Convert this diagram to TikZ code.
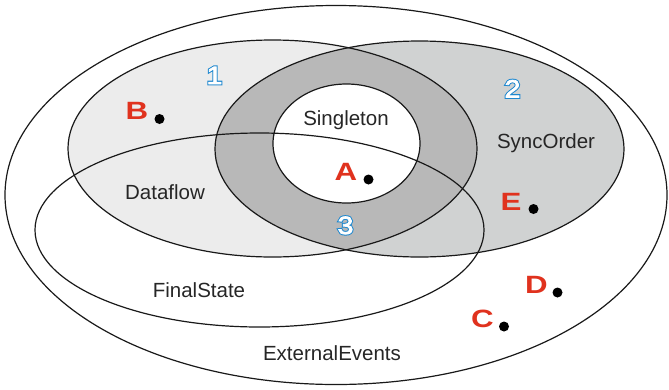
\documentclass[tikz,border=0pt]{standalone}
\usepackage{fontspec}
\setmainfont{Liberation Sans}
\newfontfamily\widebold[FakeStretch=1.25]{Liberation Sans Bold}
% outlined digits: a heavily emboldened blue layer under a lighter white one
\newfontfamily\digitouter[FakeStretch=1.15, FakeBold=11]{Liberation Sans}
\newfontfamily\digitinner[FakeStretch=1.15, FakeBold=3]{Liberation Sans}
\definecolor{regA}{HTML}{ECECEC}
\definecolor{regB}{HTML}{D0D2D2}
\definecolor{regC}{HTML}{B8B8B8}
\definecolor{ptred}{HTML}{E0321E}
\definecolor{numblue}{HTML}{1E88D0}
\tikzset{
  setline/.style={draw=black!90, line width=1.2pt},
  setname/.style={anchor=base, inner sep=0pt, font=\fontsize{20.5}{20.5}\selectfont, text=black!85},
  ptname/.style={anchor=base, inner sep=0pt, font=\fontsize{25}{25}\widebold, text=ptred},
  ptdot/.style={fill=black, circle, inner sep=0pt, minimum size=10pt},
  numouter/.style={anchor=base, inner sep=0pt, font=\fontsize{25}{25}\digitouter, text=numblue},
  numinner/.style={anchor=base, inner sep=0pt, font=\fontsize{25}{25}\digitinner, text=white}
}
\begin{document}
\begin{tikzpicture}[x=1pt, y=-1pt]
  \useasboundingbox (0,0) rectangle (669,389);
  % shaded regions
  \fill[regA] (272.5,148.5) ellipse [x radius=204.5, y radius=108.5];
  \fill[regB] (419.5,149) ellipse [x radius=204.5, y radius=108];
  \begin{scope}
    \clip (272.5,148.5) ellipse [x radius=204.5, y radius=108.5];
    \fill[regC] (419.5,149) ellipse [x radius=204.5, y radius=108];
  \end{scope}
  \fill[white] (346.5,143.5) ellipse [x radius=73.5, y radius=59.5];
  % set boundaries
  \draw[setline] (336,195) ellipse [x radius=331, y radius=189.5];
  \draw[setline] (272.5,148.5) ellipse [x radius=204.5, y radius=108.5];
  \draw[setline] (419.5,149) ellipse [x radius=204.5, y radius=108];
  \draw[setline] (259.5,230) ellipse [x radius=224.5, y radius=97];
  \draw[setline] (346.5,143.5) ellipse [x radius=73.5, y radius=59.5];
  % set names
  \node[setname] (singleton) at (346,125) {Singleton};
  \node[setname] (syncorder) at (546,148) {SyncOrder};
  \node[setname] (dataflow) at (165,199) {Dataflow};
  \node[setname] (finalstate) at (199,297) {FinalState};
  \node[setname] (external) at (332,360) {ExternalEvents};
  % region numbers
  \node[numouter] (n1o) at (214.5,84) {1};
  \node[numinner] (n1) at (n1o.base) {1};
  \node[numouter] (n2o) at (512.5,97.5) {2};
  \node[numinner] (n2) at (n2o.base) {2};
  \node[numouter] (n3o) at (345.5,234) {3};
  \node[numinner] (n3) at (n3o.base) {3};
  % points
  \node[ptname] (lB) at (137,119) {B};
  \node[ptdot] (pB) at (159.5,119) {};
  \node[ptname] (lA) at (346,180) {A};
  \node[ptdot] (pA) at (368.5,179.5) {};
  \node[ptname] (lE) at (511,210) {E};
  \node[ptdot] (pE) at (533.5,209) {};
  \node[ptname] (lD) at (536.5,293) {D};
  \node[ptdot] (pD) at (557.5,292.5) {};
  \node[ptname] (lC) at (482.5,327.5) {C};
  \node[ptdot] (pC) at (504,326.5) {};
\end{tikzpicture}
\end{document}
